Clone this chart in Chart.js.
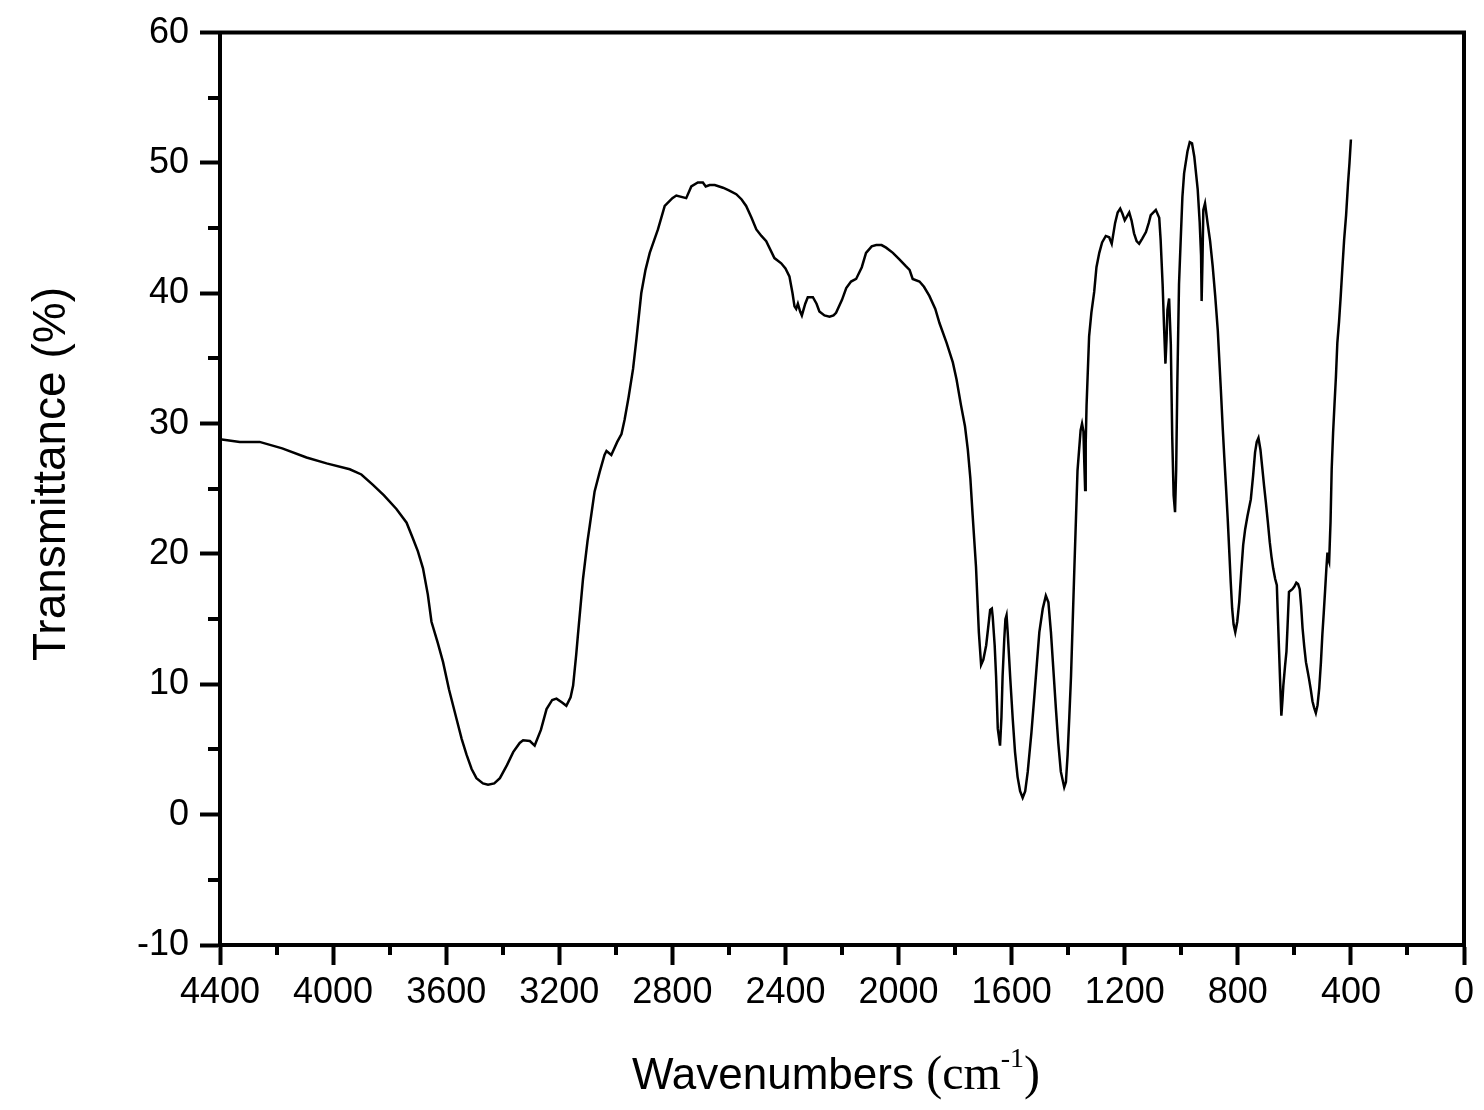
<!DOCTYPE html>
<html>
<head>
<meta charset="utf-8">
<title>IR spectrum</title>
<script src="https://cdn.jsdelivr.net/npm/chart.js@4.4.1/dist/chart.umd.min.js"></script>
<style>
    body { margin: 0; background: #fff; }
    #wrap { width: 1484px; height: 1110px; }
</style>
</head>
<body>
<div id="wrap"><canvas id="spectrum" width="1484" height="1110"></canvas></div>
<script>
// Spectrum (cm-1 and % transmittance)
const wavenumbers = [
    4400, 4330, 4260, 4180, 4094, 4023, 3941, 3900, 3859, 3820, 3776, 3740, 3718, 3700, 3682, 3665,
    3652, 3630, 3611, 3590, 3564, 3545, 3528, 3510, 3493, 3470, 3452, 3430, 3410, 3385, 3363, 3340,
    3328, 3304, 3287, 3265, 3245, 3225, 3210, 3190, 3175, 3160, 3151, 3140, 3134, 3116, 3100, 3092,
    3075, 3057, 3040, 3033, 3016, 2995, 2980, 2969, 2955, 2939, 2927, 2910, 2895, 2880, 2851, 2827,
    2800, 2786, 2751, 2733, 2710, 2692, 2682, 2668, 2650, 2621, 2600, 2574, 2555, 2539, 2520, 2503,
    2485, 2468, 2439, 2415, 2400, 2386, 2375, 2368, 2362, 2356, 2348, 2342, 2330, 2321, 2303, 2290,
    2280, 2262, 2244, 2230, 2221, 2200, 2185, 2168, 2150, 2130, 2115, 2095, 2079, 2060, 2044, 2020,
    1997, 1975, 1961, 1950, 1926, 1910, 1891, 1870, 1855, 1830, 1808, 1795, 1779, 1765, 1755, 1746,
    1738, 1726, 1716, 1708, 1700, 1690, 1676, 1670, 1667, 1660, 1655, 1649, 1641, 1636, 1632, 1626,
    1622, 1618, 1614, 1605, 1596, 1588, 1579, 1570, 1561, 1552, 1543, 1530, 1520, 1510, 1502, 1490,
    1479, 1470, 1461, 1452, 1443, 1435, 1426, 1414, 1408, 1402, 1396, 1390, 1378, 1367, 1356, 1351,
    1346, 1343, 1340, 1338, 1335, 1326, 1318, 1308, 1300, 1290, 1280, 1267, 1255, 1246, 1240, 1234,
    1225, 1216, 1208, 1200, 1192, 1184, 1176, 1167, 1158, 1149, 1138, 1125, 1115, 1108, 1090, 1078,
    1073, 1066, 1061, 1056, 1052, 1049, 1043, 1037, 1032, 1027, 1022, 1018, 1014, 1008, 1002, 996,
    990, 978, 970, 962, 954, 942, 935, 930, 928, 925, 922, 916, 907, 898, 889, 880,
    871, 860, 853, 848, 842, 836, 830, 825, 820, 815, 809, 802, 795, 788, 781, 774,
    766, 754, 746, 739, 733, 727, 720, 713, 707, 701, 694, 687, 681, 675, 668, 662,
    658, 654, 650, 646, 642, 639, 633, 628, 624, 619, 613, 607, 600, 593, 587, 581,
    576, 571, 565, 559, 553, 548, 542, 536, 530, 524, 518, 512, 506, 501, 496, 491,
    487, 483, 480, 477, 472, 468, 463, 458, 453, 448, 442, 436, 430, 424, 417, 410,
    405, 400
];
const transmittance = [
    28.8, 28.6, 28.6, 28.1, 27.4, 26.95, 26.5, 26.1, 25.3, 24.5, 23.45, 22.4, 21.2, 20.2, 18.9, 16.9,
    14.8, 13.2, 11.7, 9.6, 7.4, 5.8, 4.6, 3.5, 2.8, 2.4, 2.3, 2.4, 2.8, 3.8, 4.8, 5.5,
    5.7, 5.65, 5.3, 6.5, 8.1, 8.8, 8.9, 8.6, 8.35, 9.0, 9.9, 12.3, 13.8, 18.1, 21.0, 22.2,
    24.8, 26.3, 27.6, 27.9, 27.6, 28.6, 29.2, 30.3, 32.0, 34.2, 36.5, 40.0, 41.8, 43.1, 44.9, 46.7,
    47.3, 47.5, 47.3, 48.2, 48.5, 48.5, 48.2, 48.3, 48.3, 48.1, 47.9, 47.6, 47.2, 46.7, 45.8, 44.9,
    44.4, 44.0, 42.7, 42.3, 41.9, 41.3, 40.0, 39.0, 38.8, 39.2, 38.6, 38.3, 39.2, 39.7, 39.7, 39.2,
    38.6, 38.3, 38.2, 38.3, 38.5, 39.5, 40.4, 40.9, 41.1, 42.0, 43.1, 43.6, 43.7, 43.7, 43.5, 43.1,
    42.6, 42.1, 41.8, 41.1, 40.9, 40.5, 39.8, 38.8, 37.7, 36.2, 34.7, 33.4, 31.4, 29.8, 28.0, 25.8,
    23.0, 19.0, 14.0, 11.5, 11.9, 13.0, 15.7, 15.8, 15.2, 13.0, 10.6, 6.6, 5.3, 7.5, 10.6, 13.5,
    15.0, 15.3, 14.0, 10.5, 7.3, 4.8, 2.9, 1.8, 1.3, 1.8, 3.3, 6.3, 9.0, 11.8, 14.0, 15.8,
    16.8, 16.3, 14.0, 11.0, 8.0, 5.5, 3.3, 2.1, 2.5, 4.6, 7.5, 10.6, 19.0, 26.4, 29.5, 30.0,
    29.4, 27.0, 24.9, 28.5, 31.4, 36.7, 38.5, 40.1, 42.0, 43.1, 43.9, 44.4, 44.3, 43.8, 44.6, 45.4,
    46.2, 46.5, 46.1, 45.6, 45.9, 46.2, 45.6, 44.6, 44.0, 43.8, 44.2, 44.7, 45.4, 46.0, 46.4, 45.8,
    44.1, 40.7, 37.5, 34.6, 36.5, 38.7, 39.6, 36.1, 29.0, 24.5, 23.2, 26.5, 33.0, 40.7, 44.1, 47.4,
    49.2, 50.9, 51.6, 51.5, 50.5, 48.0, 45.5, 42.9, 39.4, 42.5, 46.4, 46.9, 45.4, 44.0, 42.1, 39.8,
    37.2, 32.6, 29.5, 27.5, 25.2, 22.8, 20.1, 17.8, 15.8, 14.6, 14.0, 14.8, 16.3, 18.6, 20.7, 21.9,
    22.9, 24.2, 26.0, 27.8, 28.6, 28.9, 28.0, 26.5, 25.2, 24.0, 22.5, 20.9, 19.8, 18.9, 18.1, 17.6,
    15.0, 12.5, 10.0, 7.6, 8.8, 9.9, 11.4, 12.5, 14.5, 17.1, 17.2, 17.3, 17.5, 17.8, 17.7, 17.3,
    16.0, 14.3, 12.9, 11.7, 11.0, 10.4, 9.6, 8.7, 8.2, 7.8, 8.4, 9.7, 11.7, 13.8, 15.5, 17.3,
    18.8, 20.1, 19.6, 19.4, 22.5, 26.5, 29.3, 31.5, 33.6, 36.2, 37.8, 39.8, 42.0, 44.1, 46.0, 48.5,
    50.0, 51.8
];

// Axis ticks
const xTicks = [4400, 4000, 3600, 3200, 2800, 2400, 2000, 1600, 1200, 800, 400, 0];
const yTicks = [-10, 0, 10, 20, 30, 40, 50, 60];

const xMinor = xTicks.slice(1).map(v => v + 200);
const yMinor = yTicks.slice(1).map(v => v - 5);

const sansFont = "'Liberation Sans', Arial, sans-serif";
const serifFont = "'Liberation Serif', 'Times New Roman', serif";

// Frame, minor ticks and axis titles
const axisDecor = {
    id: 'axisDecor',
    afterDraw(chart) {
        const { ctx, chartArea: a, scales: { x, y } } = chart;
        ctx.save();
        ctx.strokeStyle = '#000';
        ctx.lineWidth = 4;
        ctx.lineCap = 'square';

        // top and right sides of the box
        ctx.beginPath();
        ctx.moveTo(a.left, a.top);
        ctx.lineTo(a.right, a.top);
        ctx.lineTo(a.right, a.bottom);
        ctx.stroke();

        ctx.lineCap = 'butt';
        ctx.beginPath();
        yMinor.forEach(v => {
            const py = Math.round(y.getPixelForValue(v));
            ctx.moveTo(a.left - 12, py);
            ctx.lineTo(a.left, py);
        });
        xMinor.forEach(v => {
            const px = Math.round(x.getPixelForValue(v));
            ctx.moveTo(px, a.bottom);
            ctx.lineTo(px, a.bottom + 10);
        });
        ctx.stroke();

        // y title
        ctx.fillStyle = '#000';
        ctx.save();
        ctx.translate(52, 474);
        ctx.rotate(-Math.PI / 2);
        ctx.font = '46px ' + sansFont;
        ctx.textAlign = 'center';
        ctx.textBaseline = 'middle';
        ctx.fillText('Transmittance (%)', 0, 0);
        ctx.restore();

        // x title with superscript
        const parts = [
            { text: 'Wavenumbers ', font: '44px ' + sansFont, rise: 0 },
            { text: '(cm', font: '48px ' + serifFont, rise: 0 },
            { text: '-1', font: '28px ' + serifFont, rise: 22 },
            { text: ')', font: '48px ' + serifFont, rise: 0 }
        ];
        let total = 0;
        parts.forEach(p => {
            ctx.font = p.font;
            p.w = ctx.measureText(p.text).width;
            total += p.w;
        });
        let cx = 836 - total / 2;
        ctx.textAlign = 'left';
        ctx.textBaseline = 'alphabetic';
        parts.forEach(p => {
            ctx.font = p.font;
            ctx.fillText(p.text, cx, 1089 - p.rise);
            cx += p.w;
        });
        ctx.restore();
    }
};

const points = wavenumbers.map((w, i) => ({ x: w, y: transmittance[i] }));

new Chart(document.getElementById('spectrum'), {
    type: 'line',
    data: {
        datasets: [{
            data: points,
            borderColor: '#000',
            borderWidth: 2.5,
            pointRadius: 0,
            tension: 0,
            fill: false
        }]
    },
    options: {
        responsive: false,
        animation: false,
        layout: { padding: { top: 30, right: 20, left: 0, bottom: 0 } },
        plugins: {
            legend: { display: false },
            tooltip: { enabled: false }
        },
        scales: {
            x: {
                type: 'linear',
                reverse: true,
                min: 0,
                max: 4400,
                afterFit: scale => { scale.height = 165; },
                afterBuildTicks: scale => { scale.ticks = xTicks.map(v => ({ value: v })); },
                ticks: {
                    color: '#000',
                    padding: 6,
                    maxRotation: 0,
                    autoSkip: false,
                    font: { family: sansFont, size: 36 },
                    callback: v => String(v)
                },
                grid: {
                    drawOnChartArea: false,
                    drawTicks: true,
                    tickLength: 20,
                    tickWidth: 4,
                    tickColor: '#000'
                },
                border: { display: true, color: '#000', width: 4 }
            },
            y: {
                min: -10,
                max: 60,
                afterFit: scale => { scale.width = 220; },
                afterBuildTicks: scale => { scale.ticks = yTicks.map(v => ({ value: v })); },
                ticks: {
                    color: '#000',
                    padding: 11,
                    autoSkip: false,
                    font: { family: sansFont, size: 36 },
                    callback: v => String(v)
                },
                grid: {
                    drawOnChartArea: false,
                    drawTicks: true,
                    tickLength: 20,
                    tickWidth: 4,
                    tickColor: '#000'
                },
                border: { display: true, color: '#000', width: 4 }
            }
        }
    },
    plugins: [axisDecor]
});
</script>
</body>
</html>
